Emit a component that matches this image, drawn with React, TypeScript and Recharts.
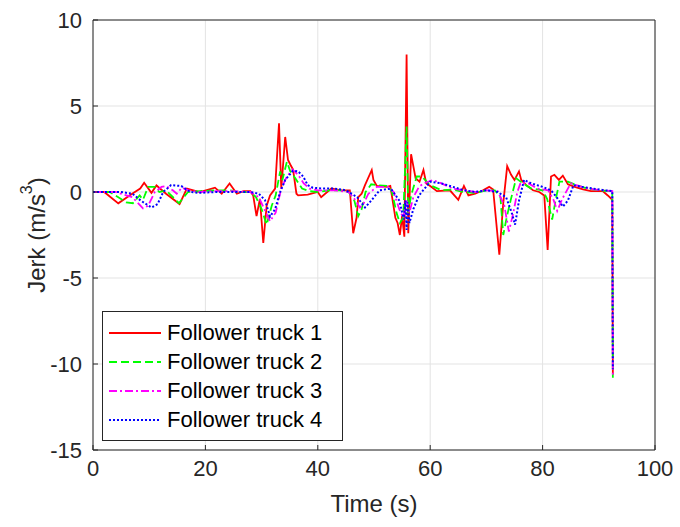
import React from "react";
import {
  LineChart, Line, XAxis, YAxis, CartesianGrid,
} from "recharts";

// time (s) and jerk (m/s^3)
const truck1T = [0, 2, 4.5, 7.1, 8.4, 9.1, 10.4, 11.3, 13, 15.4, 16.7, 19, 21.7, 22.9, 24.3, 25.6, 26.8, 28, 28.5, 29.1, 29.7, 30.3, 30.9, 31.5, 32.4, 33.1, 33.5, 34.2, 34.7, 35.1, 35.6, 36.2, 36.5, 38.2, 40, 40.6, 42.4, 44.2, 45.7, 46.3, 46.9, 47.2, 47.8, 48.4, 49.6, 49.9, 50.5, 52.3, 52.9, 53.2, 53.8, 54.2, 54.6, 55, 55.4, 55.8, 56.1, 56.6, 57.4, 58.1, 58.8, 59.3, 60, 61.2, 63.5, 65, 66, 66.8, 68, 69.4, 70.5, 71.2, 72.3, 73, 73.7, 74.4, 75, 75.8, 76.2, 77.1, 78.3, 79.4, 80.3, 80.9, 81.5, 82.1, 82.9, 83.6, 84.5, 85.7, 87.2, 88.6, 90.7, 91.6, 92.4, 92.5];
const truck1J = [0, 0, -0.66, -0.07, 0.2, 0.54, -0.05, 0.38, -0.1, -0.7, 0.2, 0, 0.25, -0.1, 0.5, -0.1, 0.05, 0.05, -0.2, -1.4, -0.4, -2.96, -0.8, -0.2, 0.2, 4.0, 0.2, 3.2, 1.86, 1.6, 1.3, -0.1, -0.2, -0.15, 0, -0.3, 0.2, 0.1, 0.1, -2.4, -1.5, -0.3, -0.1, 0.4, 1.28, 0.7, 0.35, 0.3, 0.35, -0.25, -1.5, -1.8, -2.5, -1.4, -2.6, 8.0, -2.4, 2.2, 0.8, 0.6, 1.28, 0.5, 0.35, 0.05, 0.1, -0.45, 0.35, -0.2, -0.1, 0.1, 0.3, 0.15, -3.65, -0.65, 1.5, 1.0, 0.7, 1.2, 0.7, 0.4, 0.1, 0, -0.2, -3.37, 0.9, 1.0, 0.7, 0.95, 0.45, 0.3, 0.15, 0.05, 0.05, -0.2, -0.45, -10.6];

const truck2T = [0, 3, 5.9, 7.1, 8.3, 8.9, 9.8, 11, 11.8, 13, 15.3, 16.9, 19, 22, 24.5, 26, 28, 29, 30, 30.9, 31.8, 32.5, 33.3, 33.7, 34.5, 35.1, 36, 37.2, 38.5, 40, 42, 44, 45.5, 46.5, 47.2, 47.8, 48.5, 49.5, 50.5, 52.5, 53.2, 54, 54.6, 55.2, 55.8, 56.1, 56.6, 57.6, 58.5, 60, 62, 64, 66, 68, 70, 71.5, 72.5, 73, 73.6, 74.3, 75.3, 76.5, 78, 80, 80.8, 81.7, 82.3, 83, 84.5, 86, 88, 90, 92, 92.4, 92.5];
const truck2J = [0, 0, -0.6, -0.65, -0.2, -0.45, 0.3, 0.3, 0, 0.1, -0.65, 0, 0.05, 0.1, 0.1, 0, 0, -0.3, -1.0, -1.9, -0.8, -0.2, 1.2, 0.7, 1.76, 1.2, 0.8, 0.2, 0.05, 0, 0.1, 0.1, 0, -0.5, -1.4, -1.0, 0, 0.45, 0.4, 0.35, 0, -1.2, -1.8, -1.5, 3.8, -1.2, -0.2, 0.9, 0.9, 0.4, 0.1, 0.15, 0, -0.05, 0.1, 0.1, -0.3, -2.5, -1.5, -0.5, 0.8, 0.5, 0.2, 0.1, -0.4, -1.6, -0.5, 0.6, 0.6, 0.4, 0.2, 0.1, 0.05, 0, -10.8];

const truck3T = [0, 4, 7, 8.9, 9.8, 11, 12.2, 13, 14.2, 14.9, 15.8, 17, 19, 22, 25, 28, 29.5, 30.5, 31.5, 32.5, 33.5, 34.5, 35.5, 36.5, 37.5, 38.5, 40, 43, 45.5, 46.5, 47.5, 48.1, 49, 50.5, 52.5, 53.5, 54.5, 55.2, 55.8, 56.3, 57, 58, 58.8, 60.5, 62, 64, 66, 68, 70, 72, 73.2, 74, 74.8, 75.5, 76.1, 77.5, 79, 81, 82, 82.6, 83.5, 85, 87, 89, 91, 92.4, 92.5];
const truck3J = [0, 0, -0.3, -0.95, -0.8, 0, 0.3, 0.35, 0.1, -0.1, 0.25, 0.1, 0, 0.05, 0.05, 0, -0.3, -1.0, -1.7, -1.2, 0.2, 0.9, 1.3, 1.0, 0.5, 0.2, 0.1, 0.1, 0, -0.4, -0.9, -0.7, -0.1, 0.3, 0.3, 0, -1.0, -1.5, -0.5, -1.2, -0.3, 0.3, 0.5, 0.7, 0.5, 0.2, 0.1, 0, 0.1, 0.05, -0.8, -2.3, -1.2, 0, 0.55, 0.5, 0.2, 0.1, -0.5, -1.1, -0.4, 0.5, 0.3, 0.15, 0.1, 0.05, -10.7];

const truck4T = [0, 5, 7, 8.5, 10.4, 11.5, 12.5, 13.9, 15.7, 17.3, 19, 22, 25, 28, 29.5, 30.6, 31.5, 32.4, 33.3, 34.2, 35.6, 36.5, 37.4, 38.2, 39.1, 41, 43, 45, 47, 48.4, 49.5, 51, 53, 54.5, 55.3, 55.6, 55.8, 56, 56.3, 57, 58, 60, 62, 64, 66, 68, 70, 72, 73.5, 74.5, 75.1, 75.8, 76.7, 78, 80, 81.5, 82.5, 83.6, 84.5, 85.5, 87, 89, 91, 92.4, 92.5];
const truck4J = [0, 0, -0.1, -0.5, -0.9, -0.7, 0, 0.4, 0.35, 0, -0.05, 0, 0, 0, -0.1, -0.47, -1.43, -1.0, 0, 0.7, 1.24, 1.2, 0.9, 0.4, 0.25, 0.2, 0.2, 0.1, -0.3, -0.9, -0.5, 0.1, 0.2, -0.5, -1.6, -0.5, -2.2, -0.6, -1.8, -1.0, -0.2, 0.6, 0.5, 0.3, 0.1, 0, 0.1, 0, -0.3, -1.2, -1.9, -0.5, 0.7, 0.5, 0.3, 0.1, -0.3, -0.85, -0.5, 0.4, 0.3, 0.2, 0.1, 0.05, -10.3];

const xTicks = [0, 20, 40, 60, 80, 100];
const yTicks = [-15, -10, -5, 0, 5, 10];
const seriesNames = ["Follower truck 1", "Follower truck 2", "Follower truck 3", "Follower truck 4"];

const toRows = (ts: number[], js: number[]) => ts.map((t, i) => ({ t, j: js[i] }));

const series = [
  { name: seriesNames[0], data: toRows(truck1T, truck1J), color: "#ff0000", dash: undefined, width: 1.8 },
  { name: seriesNames[1], data: toRows(truck2T, truck2J), color: "#00ff00", dash: "8 4", width: 1.8 },
  { name: seriesNames[2], data: toRows(truck3T, truck3J), color: "#ff00ff", dash: "8 3 2 3", width: 1.8 },
  { name: seriesNames[3], data: toRows(truck4T, truck4J), color: "#0000ff", dash: "2 2", width: 2 },
];

const ink = "#262626";
const font = "'Liberation Sans', Arial, sans-serif";

function JerkLabel(props: any) {
  const vb = props.viewBox || { x: 0, y: 0, width: 0, height: 0 };
  const cx = vb.x + 36;
  const cy = vb.y + vb.height / 2;
  return (
    <text x={cx} y={cy} transform={`rotate(-90 ${cx} ${cy})`} textAnchor="middle"
      dominantBaseline="central" fill={ink} fontSize={24} fontFamily={font}>
      Jerk (m/s<tspan fontSize={16} dy={-10}>3</tspan><tspan dy={10}>)</tspan>
    </text>
  );
}

function LegendBox() {
  return (
    <div style={{
      position: "absolute", left: 102, top: 311, width: 241, height: 130, boxSizing: "border-box",
      border: `1px solid ${ink}`, background: "#fff", padding: "6px 0 6px 5px",
      fontFamily: font, fontSize: 22, color: "#000", lineHeight: "29px",
    }}>
      {series.map((s) => (
        <div key={s.name} style={{ display: "flex", alignItems: "center", whiteSpace: "nowrap" }}>
          <svg width={54} height={10} style={{ marginRight: 5 }}>
            <line x1={1} y1={5} x2={53} y2={5} stroke={s.color}
              strokeWidth={s.width} strokeDasharray={s.dash} />
          </svg>
          <span>{s.name}</span>
        </div>
      ))}
    </div>
  );
}

export default function App() {
  return (
    <div style={{ position: "absolute", left: 0, top: 0, width: 680, height: 527, background: "#fff" }}>
      <LineChart width={680} height={527} margin={{ top: 19, right: 24, left: 0, bottom: 0 }}>
        <CartesianGrid stroke="#e3e3e3" />
        <XAxis dataKey="t" type="number" domain={[0, 100]} ticks={xTicks} allowDataOverflow
          height={77} stroke={ink} tickSize={-5} tickMargin={15}
          tick={{ fill: ink, fontSize: 22, fontFamily: font }}
          label={{ value: "Time (s)", position: "insideBottom", offset: 15, fill: ink, fontSize: 24, fontFamily: font }} />
        <XAxis xAxisId="top" orientation="top" type="number" domain={[0, 100]} ticks={xTicks}
          height={1} stroke={ink} tickSize={-5} tickFormatter={() => ""} />
        <YAxis type="number" domain={[-15, 10]} ticks={yTicks} allowDataOverflow width={93}
          stroke={ink} tickSize={-5} tickMargin={16}
          tick={{ fill: ink, fontSize: 22, fontFamily: font }}
          label={{ content: JerkLabel }} />
        <YAxis yAxisId="right" orientation="right" type="number" domain={[-15, 10]} ticks={yTicks}
          width={1} stroke={ink} tickSize={-5} tickFormatter={() => ""} />
        {series.map((s) => (
          <Line key={s.name} data={s.data} dataKey="j" name={s.name} type="linear"
            stroke={s.color} strokeWidth={s.width} strokeDasharray={s.dash}
            dot={false} isAnimationActive={false} />
        ))}
      </LineChart>
      <LegendBox />
    </div>
  );
}
